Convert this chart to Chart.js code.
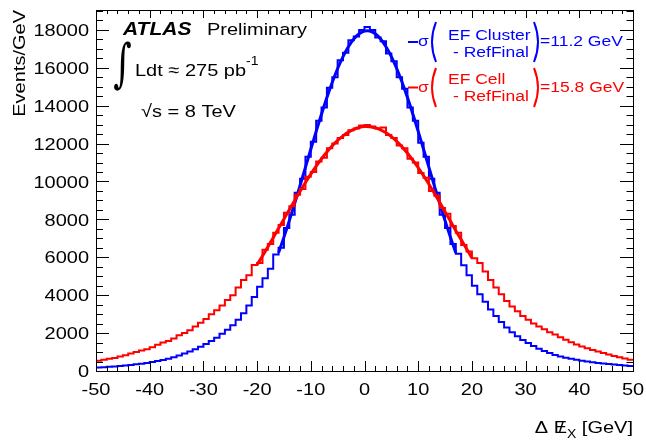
<!DOCTYPE html>
<html><head><meta charset="utf-8">
<script src="https://cdn.jsdelivr.net/npm/chart.js@4.4.1/dist/chart.umd.min.js"></script>
<style>html,body{margin:0;padding:0;background:#fff;}#wrap{width:646px;height:441px;}</style>
</head><body><div id="wrap"><canvas id="c" width="646" height="441"></canvas></div>
<script>
// ---- data ----
const binLow = -50;
const binWidth = 1;
const blueHist = [186,203,222,242,265,290,318,350,385,425,470,525,585,650,730,820,920,1030,1150,1280,
  1420,1580,1760,1960,2180,2420,2700,3050,3450,3900,4450,4900,5400,6150,6500,7550,8250,9400,10150,11300,
  12100,13200,13900,14950,15500,16400,16800,17450,17650,18000,18150,18000,17600,17400,16750,16350,15500,14900,13900,13200,
  12050,11300,10150,9400,8250,7550,6700,6190,5580,5050,4500,4050,3650,3250,2900,2580,2300,2050,1830,1640,
  1480,1320,1180,1060,950,850,770,700,640,590,540,500,460,425,395,365,340,315,290,268];
const redHist = [545,600,640,680,760,830,930,1000,1080,1150,1250,1380,1500,1580,1720,1880,2000,2150,2350,2550,
  2750,3000,3200,3450,3750,4000,4400,4800,5050,5600,5700,6400,6700,7300,7700,8350,8700,9300,9600,10250,
  10500,11050,11250,11750,12000,12300,12450,12700,12800,12950,12980,12900,12800,12850,12450,12300,11900,11750,11200,11000,
  10450,10200,9500,9250,8600,8300,7650,7300,6650,6300,5950,5700,5250,4800,4400,4050,3700,3400,3150,2900,
  2700,2500,2350,2200,2050,1920,1780,1650,1520,1400,1290,1200,1110,1030,950,870,790,720,660,590];
const blueFitX = [-16,-15,-14,-13,-12,-11,-10,-9,-8,-7,-6,-5,-4,-3,-2,-1,0,1,2,3,4,5,6,7,8,9,10,11,12,13,14,15,16,17];
const blueFitY = [6238,7064,7936,8848,9786,10743,11700,12646,13559,14428,15234,15961,16593,17115,17519,17794,17933,
  17933,17794,17519,17115,16593,15961,15234,14428,13559,12646,11700,10743,9786,8848,7936,7064,6238];
const redFitX = [-20,-19,-18,-17,-16,-15,-14,-13,-12,-11,-10,-9,-8,-7,-6,-5,-4,-3,-2,-1,0,1,2,3,4,5,6,7,8,9,10,11,12,13,14,15,16,17,18,19,20];
const redFitY = [5605,6071,6548,7035,7527,8022,8515,9003,9480,9943,10387,10808,11200,11560,11883,12169,12410,12605,12752,12849,
  12896,12891,12834,12727,12569,12365,12115,11822,11491,11124,10726,10302,9855,9381,8901,8408,7910,7407,6933,6448,5968];
const xTickLabels = ['-50','-40','-30','-20','-10','0','10','20','30','40','50'];
const yTickLabels = ['0','2000','4000','6000','8000','10000','12000','14000','16000','18000'];

const BLUE = '#0000ff', RED = '#ff0000';
const FONT = '"Liberation Sans", Arial, Helvetica, sans-serif';
const SQ = 0.87;

function histPoints(vals){
  const pts = vals.map((v,i)=>({x: binLow + i*binWidth, y: v}));
  pts.push({x: binLow + vals.length*binWidth, y: vals[vals.length-1]});
  return pts;
}
function fitPoints(xs, ys){ return xs.map((x,i)=>({x:x, y:ys[i]})); }

function drawRuns(ctx, runs, x, y, align, color, sq){
  if (sq === undefined) sq = SQ;
  let total = 0; const ws = [];
  runs.forEach(r=>{ ctx.font = r.f; const w = ctx.measureText(r.t).width; ws.push(w); total += w; });
  let cx = align==='right' ? x-total : (align==='center' ? x-total/2 : x);
  ctx.save();
  ctx.fillStyle = color; ctx.textAlign = 'left'; ctx.textBaseline = 'alphabetic';
  runs.forEach((r,i)=>{
    ctx.font = r.f;
    ctx.save();
    ctx.translate(cx, y + (r.dy||0));
    ctx.scale(1, sq);
    ctx.fillText(r.t, 0, 0);
    if (r.slash){
      const sw = ctx.measureText('/').width;
      ctx.fillText('/', (ws[i]-sw)/2 + 1, 0);
    }
    ctx.restore();
    cx += ws[i];
  });
  ctx.restore();
}

function paren(ctx, x0, y0, y1, dir, color){
  const ym = (y0+y1)/2;
  ctx.save();
  ctx.strokeStyle = color; ctx.lineWidth = 2;
  ctx.beginPath();
  ctx.moveTo(x0, y0);
  ctx.quadraticCurveTo(x0 + dir*8, ym, x0, y1);
  ctx.stroke();
  ctx.restore();
}

const atlasPlugin = {
  id: 'atlasDecor',
  afterDraw(chart){
    const ctx = chart.ctx;
    const xs = chart.scales.x, ys = chart.scales.y;
    const L = chart.chartArea.left, R = chart.chartArea.right, T = chart.chartArea.top, B = chart.chartArea.bottom;
    ctx.save();
    ctx.strokeStyle = '#000'; ctx.lineWidth = 1;
    ctx.strokeRect(Math.round(L)+0.5, Math.round(T)+0.5, Math.round(R-L), Math.round(B-T));
    ctx.beginPath();
    for (let v = -50; v <= 50; v += 2){
      const px = Math.round(xs.getPixelForValue(v)) + 0.5;
      const major = (v % 10 === 0);
      ctx.moveTo(px, B); ctx.lineTo(px, B - (major ? 10 : 5));
      ctx.moveTo(px, T); ctx.lineTo(px, T + (major ? 8 : 4));
    }
    for (let v = 0; v <= 19000; v += 500){
      const py = Math.round(ys.getPixelForValue(v)) + 0.5;
      const major = (v % 2000 === 0);
      ctx.moveTo(L, py); ctx.lineTo(L + (major ? 13 : 7), py);
      ctx.moveTo(R, py); ctx.lineTo(R - (major ? 13 : 6.5), py);
    }
    ctx.stroke();
    xTickLabels.forEach(lab=>{
      const px = xs.getPixelForValue(Number(lab));
      drawRuns(ctx, [{t: lab, f: '20px '+FONT}], px, 395, 'center', '#000');
    });
    yTickLabels.forEach(lab=>{
      const py = ys.getPixelForValue(Number(lab));
      drawRuns(ctx, [{t: lab, f: '20px '+FONT}], 89, py + 6.2, 'right', '#000');
    });
    drawRuns(ctx, [
      {t:'\u0394 ', f:'20px '+FONT},
      {t:'E', f:'20px '+FONT, slash:true},
      {t:'X', f:'14px '+FONT, dy:5},
      {t:' [GeV]', f:'20px '+FONT}
    ], 633, 433, 'right', '#000');
    ctx.save();
    ctx.translate(25, 10);
    ctx.rotate(-Math.PI/2);
    drawRuns(ctx, [{t:'Events/GeV', f:'20px '+FONT}], 0, 0, 'right', '#000');
    ctx.restore();
    drawRuns(ctx, [{t:'ATLAS', f:'italic bold 21px '+FONT}], 123, 35, 'left', '#000');
    drawRuns(ctx, [{t:'Preliminary', f:'20px '+FONT}], 207, 35, 'left', '#000');
    ctx.save();
    ctx.font = '48px "DejaVu Serif", "Liberation Serif", serif';
    const m = ctx.measureText('\u222B');
    const gh = m.actualBoundingBoxAscent + m.actualBoundingBoxDescent;
    const gw = m.actualBoundingBoxLeft + m.actualBoundingBoxRight;
    const bx0 = 114, bx1 = 131, by0 = 41, by1 = 91;
    ctx.translate(bx0, by0);
    ctx.scale((bx1-bx0)/gw, (by1-by0)/gh);
    ctx.fillStyle = '#000'; ctx.textAlign = 'left'; ctx.textBaseline = 'alphabetic';
    ctx.fillText('\u222B', m.actualBoundingBoxLeft, m.actualBoundingBoxAscent);
    ctx.restore();
    drawRuns(ctx, [
      {t:'Ldt \u2248 275 pb', f:'20px '+FONT},
      {t:'-1', f:'14px '+FONT, dy:-11}
    ], 135, 76, 'left', '#000');
    drawRuns(ctx, [{t:'\u221As = 8 TeV', f:'20px '+FONT}], 141, 117, 'left', '#000');
    const leg = [
      {c: BLUE, y: 42, l1: 'EF Cluster', l2: '- RefFinal', v: '=11.2 GeV', p0: 22, p1: 62, b1: 39.5, b2: 57, bv: 46},
      {c: RED,  y: 87.5, l1: 'EF Cell', l2: '- RefFinal', v: '=15.8 GeV', p0: 68, p1: 107, b1: 84, b2: 101, bv: 92}
    ];
    leg.forEach(e=>{
      ctx.save();
      ctx.strokeStyle = e.c; ctx.lineWidth = 2;
      ctx.beginPath(); ctx.moveTo(408, e.y); ctx.lineTo(418, e.y); ctx.stroke();
      ctx.restore();
      drawRuns(ctx, [{t:'\u03C3', f:'17.5px '+FONT}], 418, e.bv, 'left', e.c);
      paren(ctx, 436, e.p0, e.p1, -1, e.c);
      paren(ctx, 534, e.p0, e.p1, 1, e.c);
      drawRuns(ctx, [{t:e.l1, f:'17.5px '+FONT}], 448, e.b1, 'left', e.c);
      drawRuns(ctx, [{t:e.l2, f:'17.5px '+FONT}], 453, e.b2, 'left', e.c);
      drawRuns(ctx, [{t:e.v, f:'17.5px '+FONT}], 540, e.bv, 'left', e.c);
    });
    ctx.restore();
  }
};

new Chart(document.getElementById('c'), {
  type: 'line',
  data: {
    datasets: [
      {label:'Cell fit', data: fitPoints(redFitX, redFitY), borderColor: RED, borderWidth: 3, pointRadius: 0, tension: 0.4, fill: false, order: 0},
      {label:'EF Cell - RefFinal', data: histPoints(redHist), borderColor: RED, borderWidth: 2, pointRadius: 0, stepped: 'before', fill: false, order: 1},
      {label:'Cluster fit', data: fitPoints(blueFitX, blueFitY), borderColor: BLUE, borderWidth: 3, pointRadius: 0, tension: 0.4, fill: false, order: 2},
      {label:'EF Cluster - RefFinal', data: histPoints(blueHist), borderColor: BLUE, borderWidth: 2, pointRadius: 0, stepped: 'before', fill: false, order: 3}
    ]
  },
  options: {
    responsive: false,
    animation: false,
    devicePixelRatio: 1,
    layout: {padding: {left: 0, right: 13, top: 10, bottom: 0}},
    plugins: {legend: {display: false}, tooltip: {enabled: false}},
    events: [],
    scales: {
      x: {type: 'linear', min: -50, max: 50, ticks: {display: false, stepSize: 10}, grid: {display: false}, border: {display: false},
          afterFit: s => { s.height = 70; }},
      y: {type: 'linear', min: 0, max: 19050, ticks: {display: false, stepSize: 2000}, grid: {display: false}, border: {display: false},
          afterFit: s => { s.width = 96; }}
    }
  },
  plugins: [atlasPlugin]
});
</script>
</body></html>
